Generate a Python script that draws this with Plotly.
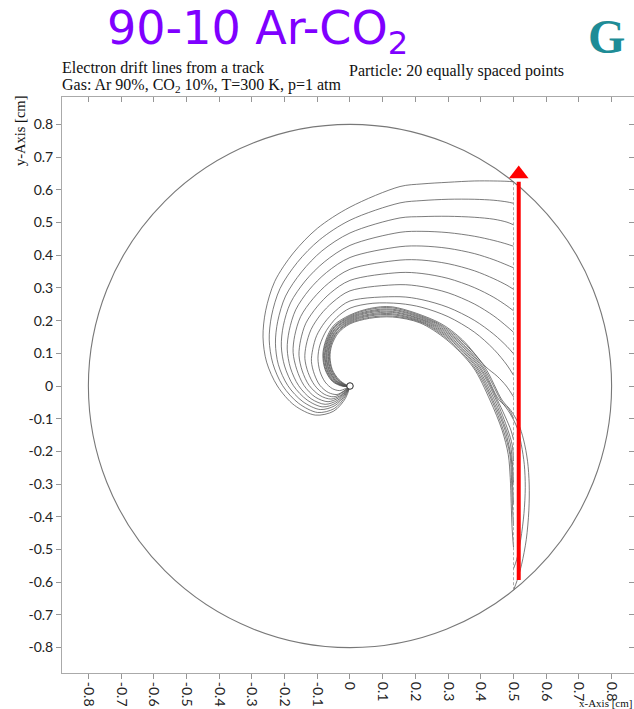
import plotly.graph_objects as go

# ---- geometry (cm) ----
TUBE_RADIUS = 0.8
WIRE_RADIUS = 0.01
TRACK_X = 0.5
TRACK_Y = [-0.6245, -0.5588, -0.4930, -0.4273, -0.3615, -0.2958, -0.2301,
           -0.1643, -0.0986, -0.0329, 0.0329, 0.0986, 0.1643, 0.2301,
           0.2958, 0.3615, 0.4273, 0.4930, 0.5588, 0.6245]

# red arrow along the track
ARROW_X = 0.516
ARROW_Y = [-0.593, 0.625]
ARROW_HEAD_Y = 0.648

# ---- drift lines: points after the track start, before the wire ----
drift_x_00 = [0.511, 0.525, 0.539, 0.547, 0.548, 0.543, 0.531, 0.515, 0.492, 0.465, 0.412, 0.339, 0.267, 0.13, 0.06, 0.0, -0.048, -0.072, -0.081, -0.074, -0.052, -0.021]
drift_y_00 = [-0.595, -0.545, -0.470, -0.380, -0.300, -0.230, -0.165, -0.115, -0.075, -0.043, 0.058, 0.141, 0.193, 0.239, 0.234, 0.214, 0.182, 0.138, 0.094, 0.050, 0.015, 0.000]

drift_x_01 = [0.510, 0.522, 0.532, 0.536, 0.533, 0.524, 0.512, 0.490, 0.461, 0.407, 0.333, 0.261, 0.13, 0.06, 0.0, -0.047, -0.070, -0.078, -0.071, -0.050, -0.020]
drift_y_01 = [-0.530, -0.470, -0.390, -0.310, -0.240, -0.180, -0.130, -0.085, -0.043, 0.058, 0.141, 0.193, 0.235, 0.230, 0.211, 0.180, 0.136, 0.093, 0.050, 0.015, 0.000]

drift_x_02 = [0.496, 0.493, 0.490, 0.484, 0.465, 0.428, 0.376, 0.296, 0.214, 0.13, 0.06, 0.0, -0.036, -0.056, -0.061, -0.054, -0.034, -0.012]
drift_y_02 = [-0.440, -0.360, -0.280, -0.210, -0.135, -0.043, 0.058, 0.141, 0.193, 0.211, 0.207, 0.190, 0.162, 0.124, 0.088, 0.050, 0.020, 0.004]

drift_x_03 = [0.497, 0.494, 0.489, 0.469, 0.433, 0.380, 0.301, 0.221, 0.13, 0.06, 0.0, -0.038, -0.058, -0.063, -0.056, -0.036, -0.013]
drift_y_03 = [-0.370, -0.290, -0.210, -0.135, -0.043, 0.058, 0.141, 0.193, 0.214, 0.210, 0.193, 0.165, 0.126, 0.089, 0.050, 0.019, 0.003]

drift_x_04 = [0.497, 0.493, 0.474, 0.437, 0.385, 0.307, 0.227, 0.13, 0.06, 0.0, -0.039, -0.060, -0.066, -0.059, -0.038, -0.014]
drift_y_04 = [-0.300, -0.220, -0.135, -0.043, 0.058, 0.141, 0.193, 0.218, 0.214, 0.196, 0.167, 0.128, 0.090, 0.050, 0.019, 0.003]

drift_x_05 = [0.497, 0.491, 0.478, 0.442, 0.389, 0.312, 0.234, 0.13, 0.06, 0.0, -0.041, -0.062, -0.068, -0.061, -0.041, -0.015]
drift_y_05 = [-0.240, -0.180, -0.135, -0.043, 0.058, 0.141, 0.193, 0.221, 0.217, 0.199, 0.170, 0.129, 0.090, 0.050, 0.018, 0.002]

drift_x_06 = [0.496, 0.483, 0.447, 0.394, 0.317, 0.241, 0.13, 0.06, 0.0, -0.042, -0.064, -0.071, -0.064, -0.043, -0.016]
drift_y_06 = [-0.180, -0.135, -0.043, 0.058, 0.141, 0.193, 0.225, 0.220, 0.202, 0.172, 0.131, 0.091, 0.050, 0.017, 0.002]

drift_x_07 = [0.492, 0.451, 0.398, 0.323, 0.247, 0.13, 0.06, 0.0, -0.044, -0.066, -0.073, -0.066, -0.045, -0.018]
drift_y_07 = [-0.135, -0.043, 0.058, 0.141, 0.193, 0.228, 0.224, 0.205, 0.175, 0.133, 0.092, 0.050, 0.017, 0.001]

drift_x_08 = [0.485, 0.456, 0.403, 0.328, 0.254, 0.13, 0.06, 0.0, -0.045, -0.068, -0.076, -0.069, -0.047, -0.019]
drift_y_08 = [-0.070, -0.043, 0.058, 0.141, 0.193, 0.232, 0.227, 0.208, 0.177, 0.135, 0.093, 0.050, 0.016, 0.001]

drift_x_09 = [0.478, 0.450, 0.416, 0.344, 0.274, 0.13, 0.06, 0.0, -0.050, -0.074, -0.083, -0.076, -0.054, -0.022]
drift_y_09 = [0.000, 0.030, 0.058, 0.141, 0.193, 0.242, 0.237, 0.217, 0.185, 0.140, 0.095, 0.050, 0.014, -0.001]

drift_x_10 = [0.48, 0.44, 0.38, 0.30, 0.22, 0.153, 0.07, 0.0, -0.040, -0.072, -0.092, -0.098, -0.092, -0.076, -0.054, -0.032, -0.014]
drift_y_10 = [0.064, 0.112, 0.165, 0.212, 0.2405, 0.252, 0.253, 0.238, 0.210, 0.170, 0.125, 0.085, 0.045, 0.012, -0.008, -0.014, -0.008]

drift_x_11 = [0.48, 0.44, 0.38, 0.30, 0.22, 0.153, 0.0, -0.044, -0.077, -0.102, -0.114, -0.118, -0.109, -0.092, -0.066, -0.040, -0.020, -0.006]
drift_y_11 = [0.121, 0.158, 0.201, 0.2405, 0.264, 0.273, 0.260, 0.230, 0.195, 0.154, 0.112, 0.075, 0.036, 0.002, -0.020, -0.026, -0.016, -0.005]

drift_x_12 = [0.48, 0.44, 0.38, 0.30, 0.22, 0.153, 0.0, -0.052, -0.090, -0.119, -0.134, -0.138, -0.128, -0.108, -0.079, -0.049, -0.026, -0.009]
drift_y_12 = [0.182, 0.214, 0.251, 0.285, 0.304, 0.310, 0.291, 0.257, 0.218, 0.173, 0.125, 0.084, 0.041, 0.002, -0.025, -0.033, -0.022, -0.008]

drift_x_13 = [0.48, 0.44, 0.38, 0.30, 0.22, 0.153, 0.0, -0.059, -0.101, -0.135, -0.151, -0.156, -0.146, -0.125, -0.092, -0.058, -0.031, -0.011]
drift_y_13 = [0.245, 0.271, 0.301, 0.329, 0.344, 0.347, 0.323, 0.285, 0.242, 0.192, 0.140, 0.094, 0.046, 0.002, -0.029, -0.040, -0.030, -0.012]

drift_x_14 = [0.48, 0.44, 0.38, 0.30, 0.22, 0.153, 0.0, -0.065, -0.113, -0.151, -0.169, -0.174, -0.163, -0.141, -0.106, -0.067, -0.036, -0.013]
drift_y_14 = [0.308, 0.328, 0.3525, 0.374, 0.385, 0.385, 0.357, 0.315, 0.267, 0.212, 0.154, 0.103, 0.051, 0.002, -0.034, -0.048, -0.037, -0.016]

drift_x_15 = [0.48, 0.44, 0.38, 0.30, 0.22, 0.153, 0.0, -0.072, -0.125, -0.166, -0.186, -0.192, -0.182, -0.157, -0.119, -0.076, -0.039, -0.014]
drift_y_15 = [0.370, 0.386, 0.405, 0.421, 0.428, 0.426, 0.393, 0.347, 0.294, 0.233, 0.169, 0.113, 0.055, 0.001, -0.039, -0.056, -0.044, -0.020]

drift_x_16 = [0.48, 0.44, 0.38, 0.30, 0.22, 0.153, 0.0, -0.079, -0.137, -0.182, -0.204, -0.210, -0.200, -0.173, -0.131, -0.083, -0.043, -0.015]
drift_y_16 = [0.434, 0.445, 0.458, 0.469, 0.473, 0.470, 0.430, 0.379, 0.321, 0.254, 0.184, 0.122, 0.061, 0.001, -0.043, -0.064, -0.052, -0.024]

drift_x_17 = [0.48, 0.44, 0.38, 0.30, 0.22, 0.153, 0.0, -0.086, -0.148, -0.197, -0.221, -0.228, -0.219, -0.190, -0.144, -0.091, -0.046, -0.015]
drift_y_17 = [0.501, 0.510, 0.516, 0.519, 0.518, 0.514, 0.468, 0.413, 0.349, 0.275, 0.198, 0.131, 0.065, 0.001, -0.048, -0.072, -0.060, -0.028]

drift_x_18 = [0.48, 0.44, 0.38, 0.30, 0.22, 0.153, 0.0, -0.093, -0.161, -0.214, -0.240, -0.247, -0.236, -0.206, -0.157, -0.099, -0.048, -0.015]
drift_y_18 = [0.563, 0.568, 0.571, 0.571, 0.567, 0.560, 0.507, 0.447, 0.378, 0.298, 0.214, 0.141, 0.069, 0.001, -0.053, -0.081, -0.069, -0.033]

drift_x_19 = [0.48, 0.44, 0.38, 0.30, 0.22, 0.153, 0.0, -0.100, -0.173, -0.230, -0.258, -0.266, -0.255, -0.222, -0.170, -0.106, -0.050, -0.014]
drift_y_19 = [0.626, 0.627, 0.627, 0.623, 0.618, 0.610, 0.547, 0.482, 0.407, 0.320, 0.230, 0.150, 0.073, 0.000, -0.059, -0.089, -0.077, -0.038]

DRIFT_X = [drift_x_00, drift_x_01, drift_x_02, drift_x_03, drift_x_04,
           drift_x_05, drift_x_06, drift_x_07, drift_x_08, drift_x_09,
           drift_x_10, drift_x_11, drift_x_12, drift_x_13, drift_x_14,
           drift_x_15, drift_x_16, drift_x_17, drift_x_18, drift_x_19]
DRIFT_Y = [drift_y_00, drift_y_01, drift_y_02, drift_y_03, drift_y_04,
           drift_y_05, drift_y_06, drift_y_07, drift_y_08, drift_y_09,
           drift_y_10, drift_y_11, drift_y_12, drift_y_13, drift_y_14,
           drift_y_15, drift_y_16, drift_y_17, drift_y_18, drift_y_19]

TICK_VALUES = [-0.8, -0.7, -0.6, -0.5, -0.4, -0.3, -0.2, -0.1, 0.0,
               0.1, 0.2, 0.3, 0.4, 0.5, 0.6, 0.7, 0.8]
TICK_LABELS = ["-0.8", "-0.7", "-0.6", "-0.5", "-0.4", "-0.3", "-0.2", "-0.1", "0",
               "0.1", "0.2", "0.3", "0.4", "0.5", "0.6", "0.7", "0.8"]

X_RANGE = [-0.8807, 0.8685]
Y_RANGE = [-0.8777, 0.8838]

SERIF = "Liberation Serif, Times New Roman, serif"
SANS = "Lato, Liberation Sans, sans-serif"
LINE_GREY = "rgb(80,80,80)"

fig = go.Figure()

# drift lines: track point -> recorded path -> wire
for xs, ys, y0 in zip(DRIFT_X, DRIFT_Y, TRACK_Y):
    fig.add_trace(go.Scatter(
        x=[TRACK_X] + xs + [0.0], y=[y0] + ys + [0.0],
        mode="lines", line=dict(color=LINE_GREY, width=0.75, shape="spline", smoothing=0.9),
        hoverinfo="skip", showlegend=False))

# the track itself (dashed)
fig.add_trace(go.Scatter(
    x=[TRACK_X, TRACK_X], y=[TRACK_Y[0], TRACK_Y[-1]], mode="lines",
    line=dict(color="rgb(150,150,150)", width=0.8, dash="3px,2px"),
    hoverinfo="skip", showlegend=False))

# red arrow
fig.add_trace(go.Scatter(
    x=[ARROW_X, ARROW_X], y=ARROW_Y, mode="lines",
    line=dict(color="#ff0000", width=4), hoverinfo="skip", showlegend=False))
fig.add_trace(go.Scatter(
    x=[ARROW_X], y=[ARROW_HEAD_Y], mode="markers",
    marker=dict(symbol="triangle-up", size=17, color="#ff0000", line=dict(width=0)),
    hoverinfo="skip", showlegend=False))

# mirrored frame axes (top / right) with inward ticks
fig.add_trace(go.Scatter(x=[None], y=[None], xaxis="x2", yaxis="y2",
                         showlegend=False, hoverinfo="skip"))

# tube wall and anode wire
fig.add_shape(type="circle", xref="x", yref="y",
              x0=-TUBE_RADIUS, y0=-TUBE_RADIUS, x1=TUBE_RADIUS, y1=TUBE_RADIUS,
              line=dict(color="rgb(120,120,120)", width=1.1), layer="below")
fig.add_shape(type="circle", xref="x", yref="y",
              x0=-WIRE_RADIUS, y0=-WIRE_RADIUS, x1=WIRE_RADIUS, y1=WIRE_RADIUS,
              line=dict(color="rgb(40,40,40)", width=1), fillcolor="white", layer="above")

frame_common = dict(
    tickmode="array", tickvals=TICK_VALUES, ticktext=TICK_LABELS,
    showgrid=False, zeroline=False, showline=True,
    linecolor="rgb(170,170,170)", linewidth=1,
    tickcolor="rgb(150,150,150)", ticklen=5, tickwidth=1,
)
label_font = dict(family=SANS, size=14, color="#222")

fig.update_layout(
    width=634, height=709,
    margin=dict(l=62, r=0, t=97, b=36),
    paper_bgcolor="white", plot_bgcolor="white",
    xaxis=dict(range=X_RANGE, ticks="outside", tickangle=90, tickfont=label_font, **frame_common),
    yaxis=dict(range=Y_RANGE, ticks="outside", tickfont=label_font, **frame_common),
    xaxis2=dict(range=X_RANGE, overlaying="x", side="top", ticks="inside",
                showticklabels=False, **frame_common),
    yaxis2=dict(range=Y_RANGE, overlaying="y", side="right", ticks="inside",
                showticklabels=False, **frame_common),
)


def paper_x(px):
    return (px - 62) / 572.0


def paper_y(py):
    return (673 - py) / 576.0


fig.add_annotation(text="90-10 Ar-CO<sub>2</sub>", xref="paper", yref="paper",
                   x=paper_x(106), y=paper_y(31), xanchor="left", yanchor="middle",
                   borderpad=0, showarrow=False,
                   font=dict(family="DejaVu Sans", size=46, color="#7f00ff"))
fig.add_annotation(text="<b>G</b>", xref="paper", yref="paper",
                   x=paper_x(586), y=paper_y(37), xanchor="left", yanchor="middle",
                   showarrow=False, font=dict(family=SERIF, size=48, color="rgb(30,140,150)"))
fig.add_annotation(text="Electron drift lines from a track", xref="paper", yref="paper",
                   x=paper_x(60), y=paper_y(68), xanchor="left", yanchor="middle",
                   showarrow=False, font=dict(family=SERIF, size=16, color="#111"))
fig.add_annotation(text="Gas: Ar 90%, CO<sub>2</sub> 10%, T=300 K, p=1 atm", xref="paper", yref="paper",
                   x=paper_x(60), y=paper_y(85), xanchor="left", yanchor="middle",
                   showarrow=False, font=dict(family=SERIF, size=16, color="#111"))
fig.add_annotation(text="Particle: 20 equally spaced points", xref="paper", yref="paper",
                   x=paper_x(348), y=paper_y(71), xanchor="left", yanchor="middle",
                   borderpad=0, showarrow=False, font=dict(family=SERIF, size=16, color="#111"))
fig.add_annotation(text="y-Axis [cm]", xref="paper", yref="paper", textangle=-90,
                   x=paper_x(10), y=paper_y(94), xanchor="left", yanchor="top",
                   showarrow=False, font=dict(family=SERIF, size=14.5, color="#111"))
fig.add_annotation(text="x-Axis [cm]", xref="paper", yref="paper",
                   x=paper_x(634), y=paper_y(711), xanchor="right", yanchor="bottom",
                   showarrow=False, font=dict(family=SERIF, size=11, color="#111"))

fig.write_html("out.html")
